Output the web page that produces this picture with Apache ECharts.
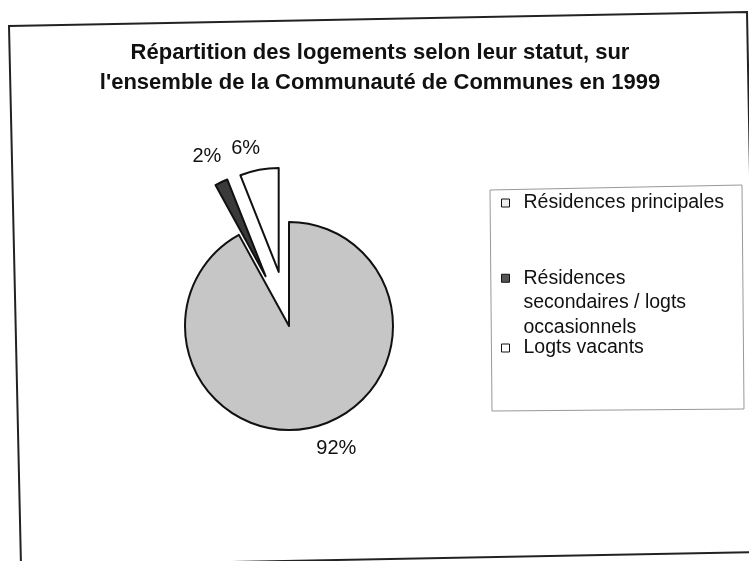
<!DOCTYPE html>
<html><head><meta charset="utf-8">
<script src="https://cdn.jsdelivr.net/npm/echarts@6/dist/echarts.min.js"></script>
<style>html,body{margin:0;padding:0;background:#fff}#c{width:749px;height:561px}</style>
</head><body><div id="c"></div>
<script>
const titleLines = ['Répartition des logements selon leur statut, sur', "l'ensemble de la Communauté de Communes en 1999"];
const categories = ['Résidences principales', 'Résidences secondaires / logts occasionnels', 'Logts vacants'];
const legendLabels = ['Résidences principales', '\n\nRésidences\nsecondaires / logts\noccasionnels', 'Logts vacants'];
const values = [92, 2, 6];
const exploded = [false, true, true];

const FONT = "'Liberation Sans', Arial, sans-serif";
const colors = ['#c6c6c6', '#3a3a3a', '#ffffff'];
const legendIconColors = ['#eeeeee', '#555555', '#ffffff'];
const labelTweaks = [
  { len: 22, dist: -4 },
  { len: 28, dist: -12 },
  { len: 22, dist: -5 }
];

const chart = echarts.init(document.getElementById('c'), null, { renderer: 'canvas' });

function legendFor(i, top, lh) {
  return {
    orient: 'vertical', left: 501, top: top, padding: 0,
    icon: 'rect', itemWidth: 8, itemHeight: 8,
    selectedMode: false,
    data: [{ name: categories[i], itemStyle: { color: legendIconColors[i], borderColor: '#111', borderWidth: 1 } }],
    formatter: () => legendLabels[i],
    textStyle: { fontSize: 19.5, lineHeight: lh, color: '#111', fontFamily: FONT, padding: [0, 0, 0, 9] }
  };
}

chart.setOption({
  animation: false,
  backgroundColor: '#fff',
  title: {
    text: titleLines.join('\n'),
    left: 380, top: 38, textAlign: 'center', padding: 0,
    textStyle: { fontSize: 22, fontWeight: 'bold', fontFamily: FONT, color: '#111', lineHeight: 30 }
  },
  legend: [
    legendFor(0, 191, 24),
    legendFor(1, 217, 24.5),
    legendFor(2, 336, 24)
  ],
  graphic: [
    { type: 'polygon', silent: true, z: -10,
      shape: { points: [[9, 26], [747, 12], [757, 552], [21, 566]] },
      style: { fill: 'none', stroke: '#222', lineWidth: 2 } },
    { type: 'polygon', silent: true, z: -10,
      shape: { points: [[490, 190], [742, 185], [744, 409], [492, 411]] },
      style: { fill: 'none', stroke: '#999', lineWidth: 1 } }
  ],
  series: [{
    type: 'pie',
    center: [289, 326],
    radius: 104,
    startAngle: 90,
    clockwise: true,
    selectedMode: 'multiple',
    selectedOffset: 55,
    avoidLabelOverlap: false,
    labelLayout: { hideOverlap: false },
    emphasis: { disabled: true },
    itemStyle: { borderColor: '#111', borderWidth: 2 },
    label: { show: true, position: 'outside', formatter: '{c}%', fontSize: 20, color: '#111', fontFamily: FONT },
    labelLine: { show: false, length2: 0 },
    data: categories.map((n, i) => ({
      name: n,
      value: values[i],
      selected: exploded[i],
      itemStyle: { color: colors[i] },
      label: { distanceToLabelLine: labelTweaks[i].dist },
      labelLine: { length: labelTweaks[i].len, length2: 0 }
    }))
  }]
});
</script></body></html>
